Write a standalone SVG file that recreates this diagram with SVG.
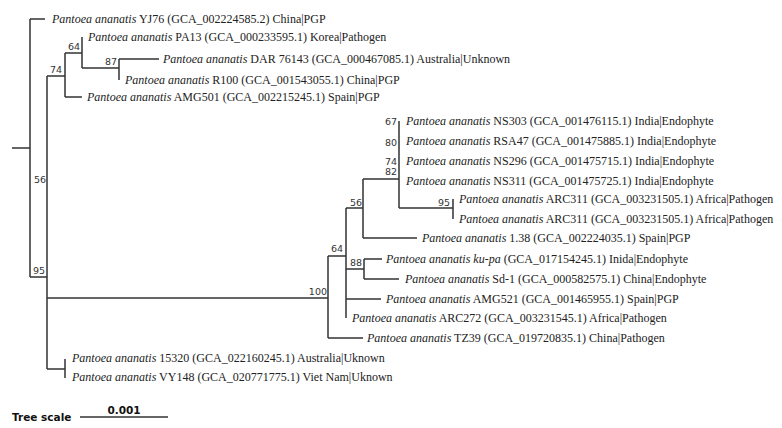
<svg xmlns="http://www.w3.org/2000/svg" width="782" height="428" viewBox="0 0 782 428">
<style>
.leaf{font-family:"Liberation Serif","Times New Roman",serif;font-size:12px;fill:#222}
.sp{font-style:italic}
.bs{font-family:"DejaVu Sans",Verdana,sans-serif;font-size:9.5px;fill:#333;text-anchor:end}
.scale{font-family:"DejaVu Sans",Verdana,sans-serif;font-size:10.5px;font-weight:bold;fill:#111}
#edges path{fill:none;stroke:#333;stroke-width:1.5}
</style>
<rect width="782" height="428" fill="#fff"/>
<g id="edges">
<path d="M12,148H30M30,19V277M30,19H45M30,277H47M47,76V369M47,76H65M65,53V97M65,97H82M65,53H82M82,37V68M82,68H119M119,59V80M119,59H159"/>
<path d="M47,369H65M65,359V378M47,298H328M328,256V338M328,256H346M328,338H363M346,208V318M346,208H363M363,179V238M363,238H417M363,179H399M399,121V208M399,208H453M453,199V219M346,269H364M364,259V279M364,259H382M364,279H399M346,299H381"/>
<path d="M80,417H168"/>
</g>
<g id="leaf-YJ76"><text class="leaf" x="52" y="23"><tspan class="sp">Pantoea ananatis</tspan> YJ76 (GCA_002224585.2) China|PGP</text></g>
<g id="leaf-PA13"><text class="leaf" x="88" y="41"><tspan class="sp">Pantoea ananatis</tspan> PA13 (GCA_000233595.1) Korea|Pathogen</text></g>
<g id="leaf-DAR76143"><text class="leaf" x="163" y="63"><tspan class="sp">Pantoea ananatis</tspan> DAR 76143 (GCA_000467085.1) Australia|Unknown</text></g>
<g id="leaf-R100"><text class="leaf" x="125" y="84"><tspan class="sp">Pantoea ananatis</tspan> R100 (GCA_001543055.1) China|PGP</text></g>
<g id="leaf-AMG501"><text class="leaf" x="87" y="101"><tspan class="sp">Pantoea ananatis</tspan> AMG501 (GCA_002215245.1) Spain|PGP</text></g>
<g id="leaf-NS303"><text class="leaf" x="406" y="125"><tspan class="sp">Pantoea ananatis</tspan> NS303 (GCA_001476115.1) India|Endophyte</text></g>
<g id="leaf-RSA47"><text class="leaf" x="406" y="145"><tspan class="sp">Pantoea ananatis</tspan> RSA47 (GCA_001475885.1) India|Endophyte</text></g>
<g id="leaf-NS296"><text class="leaf" x="406" y="165"><tspan class="sp">Pantoea ananatis</tspan> NS296 (GCA_001475715.1) India|Endophyte</text></g>
<g id="leaf-NS311"><text class="leaf" x="406" y="185"><tspan class="sp">Pantoea ananatis</tspan> NS311 (GCA_001475725.1) India|Endophyte</text></g>
<g id="leaf-ARC311a"><text class="leaf" x="459" y="203"><tspan class="sp">Pantoea ananatis</tspan> ARC311 (GCA_003231505.1) Africa|Pathogen</text></g>
<g id="leaf-ARC311b"><text class="leaf" x="459" y="223"><tspan class="sp">Pantoea ananatis</tspan> ARC311 (GCA_003231505.1) Africa|Pathogen</text></g>
<g id="leaf-1.38"><text class="leaf" x="422" y="242"><tspan class="sp">Pantoea ananatis</tspan> 1.38 (GCA_002224035.1) Spain|PGP</text></g>
<g id="leaf-ku-pa"><text class="leaf" x="386" y="263"><tspan class="sp">Pantoea ananatis ku-pa</tspan> (GCA_017154245.1) Inida|Endophyte</text></g>
<g id="leaf-Sd-1"><text class="leaf" x="405" y="283"><tspan class="sp">Pantoea ananatis</tspan> Sd-1 (GCA_000582575.1) China|Endophyte</text></g>
<g id="leaf-AMG521"><text class="leaf" x="386" y="303"><tspan class="sp">Pantoea ananatis</tspan> AMG521 (GCA_001465955.1) Spain|PGP</text></g>
<g id="leaf-ARC272"><text class="leaf" x="352" y="322"><tspan class="sp">Pantoea ananatis</tspan> ARC272 (GCA_003231545.1) Africa|Pathogen</text></g>
<g id="leaf-TZ39"><text class="leaf" x="367" y="342"><tspan class="sp">Pantoea ananatis</tspan> TZ39 (GCA_019720835.1) China|Pathogen</text></g>
<g id="leaf-15320"><text class="leaf" x="72" y="362"><tspan class="sp">Pantoea ananatis</tspan> 15320 (GCA_022160245.1) Australia|Uknown</text></g>
<g id="leaf-VY148"><text class="leaf" x="72" y="381"><tspan class="sp">Pantoea ananatis</tspan> VY148 (GCA_020771775.1) Viet Nam|Uknown</text></g>
<g id="bootstrap">
<g id="bs-64a"><text class="bs" x="80" y="50">64</text></g>
<g id="bs-87"><text class="bs" x="117" y="64.5">87</text></g>
<g id="bs-74a"><text class="bs" x="62" y="72.5">74</text></g>
<g id="bs-56a"><text class="bs" x="46" y="182.5">56</text></g>
<g id="bs-95a"><text class="bs" x="45" y="273.5">95</text></g>
<g id="bs-67"><text class="bs" x="397" y="124.5">67</text></g>
<g id="bs-80"><text class="bs" x="397" y="145.5">80</text></g>
<g id="bs-74b"><text class="bs" x="397" y="164.5">74</text></g>
<g id="bs-82"><text class="bs" x="397" y="175">82</text></g>
<g id="bs-95b"><text class="bs" x="450" y="206">95</text></g>
<g id="bs-56b"><text class="bs" x="362" y="205.5">56</text></g>
<g id="bs-64b"><text class="bs" x="343" y="251.5">64</text></g>
<g id="bs-88"><text class="bs" x="362" y="265.5">88</text></g>
<g id="bs-100"><text class="bs" x="327" y="294.5">100</text></g>
</g>
<g id="tree-scale">
<text class="scale" x="12" y="421">Tree scale</text>
<text class="scale" x="124" y="414" text-anchor="middle">0.001</text>
</g>
</svg>
